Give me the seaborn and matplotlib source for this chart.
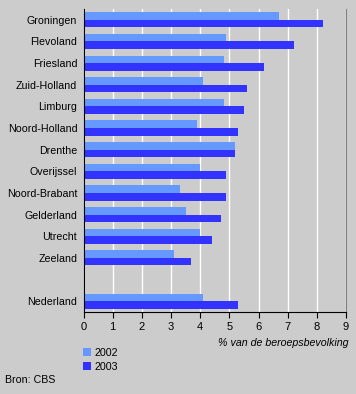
import seaborn as sns
import matplotlib.pyplot as plt
import pandas as pd
import numpy as np

# Data
provinces = ['Groningen', 'Flevoland', 'Friesland', 'Zuid-Holland', 'Limburg',
             'Noord-Holland', 'Drenthe', 'Overijssel', 'Noord-Brabant',
             'Gelderland', 'Utrecht', 'Zeeland', '', 'Nederland']
werkloos_2002 = [6.7, 4.9, 4.8, 4.1, 4.8, 3.9, 5.2, 4.0, 3.3, 3.5, 4.0, 3.1, np.nan, 4.1]
werkloos_2003 = [8.2, 7.2, 6.2, 5.6, 5.5, 5.3, 5.2, 4.9, 4.9, 4.7, 4.4, 3.7, np.nan, 5.3]
years = ['2002', '2003']

df = pd.DataFrame({
    'regio': provinces * 2,
    'jaar': [years[0]] * len(provinces) + [years[1]] * len(provinces),
    'pct': werkloos_2002 + werkloos_2003,
})

plt.rcParams['font.family'] = ['Liberation Sans', 'DejaVu Sans']
plt.rcParams['font.size'] = 7.7

fig = plt.figure(figsize=(3.56, 3.94), dpi=100)
fig.patch.set_facecolor('#cccccc')
ax = fig.add_axes([0.2346, 0.2081, 0.7374, 0.769])
ax.set_facecolor('#cccccc')

palette = {'2002': '#6699ff', '2003': '#3333ff'}
sns.barplot(data=df, y='regio', x='pct', hue='jaar', order=provinces,
            hue_order=years, palette=palette, orient='h', width=0.7,
            saturation=1, ax=ax, legend=True)

ax.set_xlim(0, 9)
ax.set_xticks(range(10))
ax.xaxis.grid(True, color='white', linewidth=1)
ax.set_axisbelow(True)
ax.spines['top'].set_visible(False)
ax.spines['right'].set_color('#808080')
ax.spines['left'].set_color('black')
ax.spines['bottom'].set_color('black')
ax.tick_params(axis='y', length=0, pad=4.5, labelsize=7.7)
ax.tick_params(axis='x', length=4, width=0.8, pad=3, labelsize=8)
ax.set_ylabel('')
ax.set_xlabel('% van de beroepsbevolking', style='italic', fontsize=7.7)
ax.xaxis.set_label_coords(1.01, -0.085, transform=ax.transAxes)
ax.xaxis.label.set_horizontalalignment('right')

ax.legend(loc='upper left', bbox_to_anchor=(-0.02, -0.105), frameon=False,
          handlelength=0.8, handleheight=0.8, handletextpad=0.3,
          labelspacing=0.35, borderaxespad=0, fontsize=7.7)

fig.text(5 / 356, 1 - 380 / 394, 'Bron: CBS', fontsize=7.7, va='center', ha='left')

plt.savefig('out.png', dpi=100, facecolor=fig.get_facecolor())
